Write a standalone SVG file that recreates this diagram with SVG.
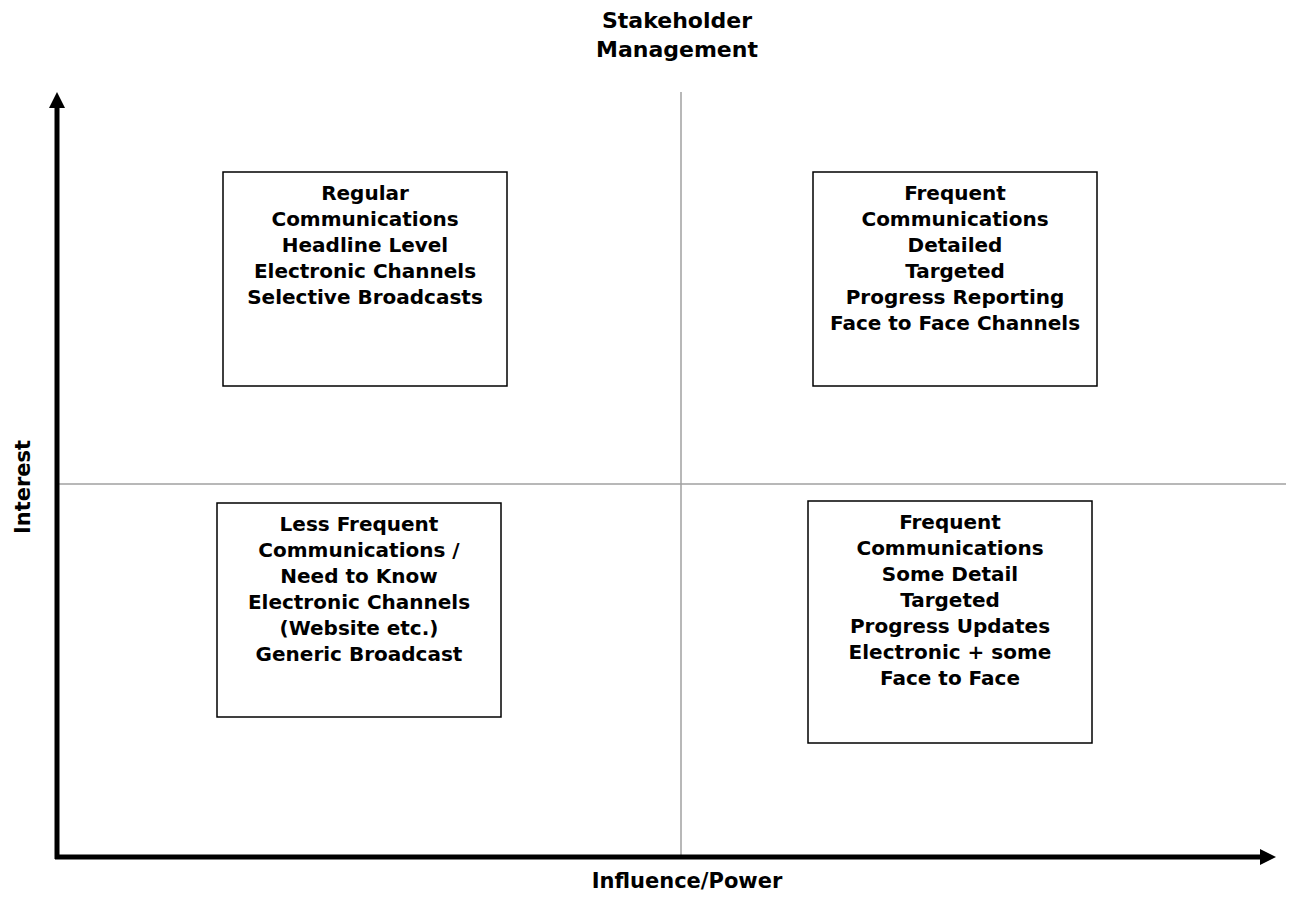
<svg xmlns="http://www.w3.org/2000/svg" width="1290" height="897" viewBox="0 0 1290 897">
  <style>
    .t { font-family: "DejaVu Sans", Verdana, sans-serif; font-weight: bold; font-size: 20px; fill: #000; text-anchor: middle; }
    .title { font-size: 22px; }
    .lbl { font-size: 21px; }
    .box { fill: #fff; stroke: #000; stroke-width: 1.5; }
    .grid { stroke: #a0a0a0; stroke-width: 1.5; fill: none; }
    .axis { stroke: #000; stroke-width: 5; fill: none; }
  </style>
  <defs>
    <marker id="arrow" viewBox="0 0 10 10" refX="0" refY="5" markerWidth="3.2" markerHeight="3.2" orient="auto" markerUnits="strokeWidth">
      <path d="M0,0 L10,5 L0,10 Z" fill="#000"/>
    </marker>
  </defs>
  <rect width="1290" height="897" fill="#fff"/>

  <text class="t title" x="677" y="28">Stakeholder</text>
  <text class="t title" x="677" y="57">Management</text>

  <g id="connectors">
    <line class="grid" x1="681" y1="92" x2="681" y2="857"/>
    <line class="grid" x1="57" y1="484" x2="1286" y2="484"/>
    <line class="axis" x1="57" y1="859" x2="57" y2="108" marker-end="url(#arrow)"/>
    <line class="axis" x1="55" y1="857" x2="1260" y2="857" marker-end="url(#arrow)"/>
  </g>

  <text class="t lbl" x="687" y="888">Influence/Power</text>
  <text class="t lbl" transform="translate(30,487) rotate(-90)">Interest</text>

  <g id="node-top-left">
    <rect class="box" x="223" y="172" width="284" height="214"/>
    <text class="t" x="365" y="200">Regular</text>
    <text class="t" x="365" y="226">Communications</text>
    <text class="t" x="365" y="252">Headline Level</text>
    <text class="t" x="365" y="278">Electronic Channels</text>
    <text class="t" x="365" y="304">Selective Broadcasts</text>
  </g>

  <g id="node-top-right">
    <rect class="box" x="813" y="172" width="284" height="214"/>
    <text class="t" x="955" y="200">Frequent</text>
    <text class="t" x="955" y="226">Communications</text>
    <text class="t" x="955" y="252">Detailed</text>
    <text class="t" x="955" y="278">Targeted</text>
    <text class="t" x="955" y="304">Progress Reporting</text>
    <text class="t" x="955" y="330">Face to Face Channels</text>
  </g>

  <g id="node-bottom-left">
    <rect class="box" x="217" y="503" width="284" height="214"/>
    <text class="t" x="359" y="531">Less Frequent</text>
    <text class="t" x="359" y="557">Communications /</text>
    <text class="t" x="359" y="583">Need to Know</text>
    <text class="t" x="359" y="609">Electronic Channels</text>
    <text class="t" x="359" y="635">(Website etc.)</text>
    <text class="t" x="359" y="661">Generic Broadcast</text>
  </g>

  <g id="node-bottom-right">
    <rect class="box" x="808" y="501" width="284" height="242"/>
    <text class="t" x="950" y="529">Frequent</text>
    <text class="t" x="950" y="555">Communications</text>
    <text class="t" x="950" y="581">Some Detail</text>
    <text class="t" x="950" y="607">Targeted</text>
    <text class="t" x="950" y="633">Progress Updates</text>
    <text class="t" x="950" y="659">Electronic + some</text>
    <text class="t" x="950" y="685">Face to Face</text>
  </g>
</svg>
